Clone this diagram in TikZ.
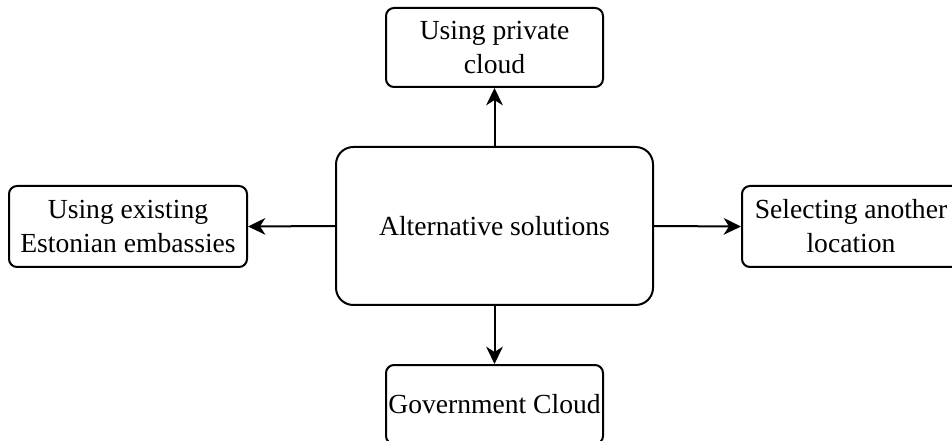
\documentclass[tikz,border=0pt]{standalone}
\usepackage{fontspec}
\setmainfont{Liberation Serif}
\usetikzlibrary{arrows.meta}
\begin{document}
\begin{tikzpicture}[x=0.75pt,y=-0.75pt,
  box/.style={draw=black,line width=1.5pt,rounded corners=6pt,fill=white,
    inner sep=0pt,align=center,font=\fontsize{20.7}{25.5}\selectfont},
  hub/.style={box,rounded corners=13pt},
  link/.style={draw=black,line width=1.5pt,
    -{Stealth[length=13pt,width=12.5pt,inset=4pt]}}]
  \useasboundingbox (0,0) rectangle (952,441);
  \clip (0,0) rectangle (952,441);
  \node[hub,minimum width=237.75pt,minimum height=118.5pt] (hub) at (494.5,226) {Alternative solutions};
  \node[box,minimum width=162.75pt,minimum height=59.25pt] (up) at (494.5,47.5) {Using private\\cloud};
  \node[box,minimum width=178.5pt,minimum height=60.75pt] (lt) at (128,226.5) {Using existing\\Estonian embassies};
  \node[box,minimum width=163.5pt,minimum height=60.75pt] (rt) at (851,226.5) {Selecting another\\location};
  \node[box,minimum width=162.75pt,minimum height=59.25pt] (dn) at (494.5,404.5) {Government Cloud};
  \draw[link] (hub.north) -- (up.south);
  \draw[link] (hub.west) -- (lt.east);
  \draw[link] (hub.east) -- (rt.west);
  \draw[link] (hub.south) -- (dn.north);
\end{tikzpicture}
\end{document}
